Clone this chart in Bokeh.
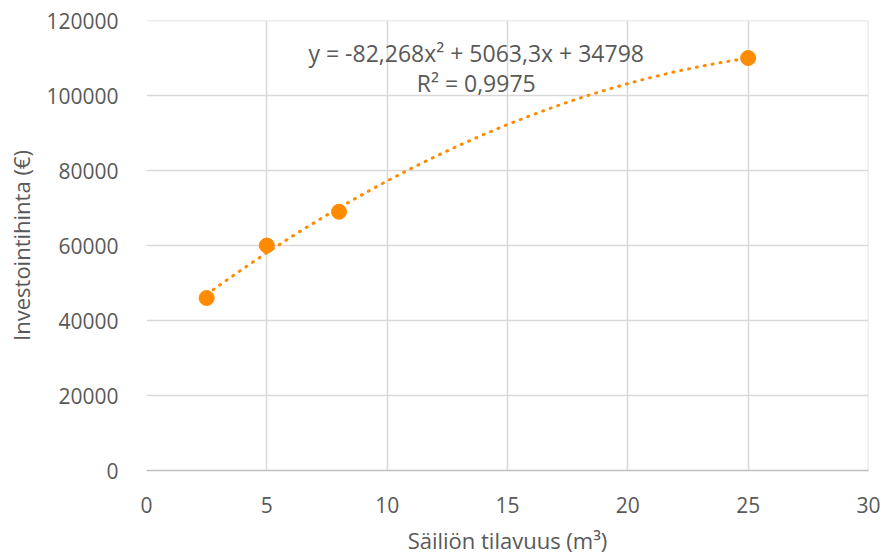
import numpy as np
from bokeh.plotting import figure
from bokeh.models import Range1d, Label, FixedTicker, NumeralTickFormatter
from bokeh.embed import file_html
from bokeh.resources import INLINE

# data
volumes = [2.5, 5, 8, 25]
prices = [46000, 60000, 69000, 110000]
trend_coef = [-82.268, 5063.3, 34798]  # from the chart's trendline label
equation_text = "y = -82,268x\u00b2 + 5063,3x + 34798"
r2_text = "R\u00b2 = 0,9975"
x_title = "Säiliön tilavuus (m\u00b3)"
y_title = "Investointihinta (\u20ac)"
x_ticks = [0, 5, 10, 15, 20, 25, 30]
y_ticks = [0, 20000, 40000, 60000, 80000, 100000, 120000]

FONT = "Open Sans"
ORANGE = "#ff8c00"
GRID = "#d9d9d9"
TXT = "#595959"

p = figure(width=883, height=557, output_backend="svg", toolbar_location=None,
           x_range=Range1d(0, 30), y_range=Range1d(0, 120000),
           min_border_left=146, min_border_right=15, min_border_top=20, min_border_bottom=87)
p.outline_line_color = None
p.background_fill_color = "white"

for ax in (p.xaxis[0], p.yaxis[0]):
    ax.major_tick_line_color = None
    ax.minor_tick_line_color = None
    ax.major_label_text_font = FONT
    ax.major_label_text_font_size = "21px"
    ax.major_label_text_color = TXT
    ax.axis_label_text_font = FONT
    ax.axis_label_text_font_size = "22px"
    ax.axis_label_text_color = TXT
    ax.axis_label_text_font_style = "normal"

p.xaxis.ticker = FixedTicker(ticks=x_ticks)
p.yaxis.ticker = FixedTicker(ticks=y_ticks)
p.yaxis.formatter = NumeralTickFormatter(format="0")
p.xaxis.formatter = NumeralTickFormatter(format="0")
p.xaxis.axis_line_color = "#bfbfbf"
p.xaxis.axis_line_width = 1.5
p.yaxis.axis_line_color = None
p.xaxis.major_label_standoff = 20
p.yaxis.major_label_standoff = 22
p.xaxis.axis_label = x_title
p.yaxis.axis_label = y_title
p.xaxis.axis_label_standoff = 9
p.yaxis.axis_label_standoff = 7

p.xgrid.grid_line_color = GRID
p.ygrid.grid_line_color = GRID
p.xgrid.grid_line_width = 1.5
p.ygrid.grid_line_width = 1.5

# gridlines at the far edges (30 and 120000)
p.line([30, 30], [0, 120000], line_color=GRID, line_width=1.5)
p.line([0, 30], [120000, 120000], line_color=GRID, line_width=1.5)

# trendline
xs = np.linspace(min(volumes), max(volumes), 200)
ys = np.polyval(trend_coef, xs)
p.line(xs, ys, line_color=ORANGE, line_width=3, line_dash="1 7", line_cap="round")

p.scatter(volumes, prices, size=15, fill_color=ORANGE, line_color=ORANGE)

lab = dict(text_align="center", text_baseline="middle", text_font=FONT, text_color=TXT)
p.add_layout(Label(x=13.7, y=111300, text=equation_text, text_font_size="23px", **lab))
p.add_layout(Label(x=13.7, y=103300, text=r2_text, text_font_size="23px", **lab))

open("out.html", "w").write(file_html(p, INLINE))
